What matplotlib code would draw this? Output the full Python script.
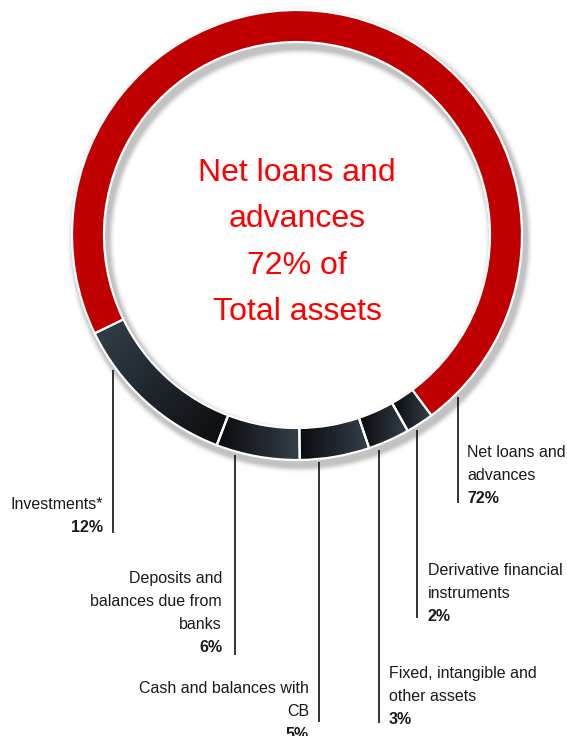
import numpy as np
import matplotlib
matplotlib.use("Agg")
import matplotlib.pyplot as plt

# ---- data -------------------------------------------------------------
categories = [
    "Investments*",
    "Deposits and\nbalances due from\nbanks",
    "Cash and balances with\nCB",
    "Fixed, intangible and\nother assets",
    "Derivative financial\ninstruments",
    "Net loans and\nadvances",
]
shares = [12, 6, 5, 3, 2, 72]
center_lines = ["Net loans and", "advances", "72% of", "Total assets"]

# ---- style / layout (pixel units, y measured from the top) --------------
W, H = 567, 736
RED = "#c00000"
SLATE = np.array([52, 64, 74]) / 255.0
INK = np.array([10, 11, 13]) / 255.0
CX, CY = 297, 235
R_OUT, RING_W = 225, 32
START = 205.9
FONT = "Liberation Sans"
PITCH = 23

# gradient per dark wedge: (direction in screen px, colour at start, colour at end)
grad = [
    ((1.0, 1.0), SLATE, INK),
    ((1.0, 0.0), INK, SLATE),
    ((1.0, 0.0), INK, SLATE),
    ((1.0, 0.0), INK, SLATE),
    ((1.0, 0.0), INK, SLATE),
]

# leader line x, line top, line bottom, text x, first baseline, alignment
label_layout = [
    (113, 370, 533, 103, 509, "right"),
    (235, 455, 655, 222, 583, "right"),
    (319, 462, 722, 309, 693, "right"),
    (379, 450, 723, 389, 678, "left"),
    (417, 430, 618, 428, 575, "left"),
    (458, 397, 503, 467, 457, "left"),
]


def Y(y):
    return H - y


fig = plt.figure(figsize=(W / 100, H / 100), dpi=100)
ax = fig.add_axes([0, 0, 1, 1])

# soft drop shadow under the ring, offset down and to the right
yy, xx = np.mgrid[0:H, 0:W] + 0.5
r = np.hypot(xx - (CX + 3), yy - (CY + 5))
r_in = R_OUT - RING_W
d = np.maximum(np.maximum(r - (R_OUT + 1), (r_in - 1) - r), 0)
alpha = 0.24 * np.exp(-(d / 4.0) ** 2)
shadow = np.zeros((H, W, 4))
shadow[..., 3] = alpha
ax.imshow(shadow, extent=[0, W, 0, H], origin="upper", zorder=1,
          interpolation="bilinear")

wedges, _ = ax.pie(
    shares,
    startangle=START,
    counterclock=True,
    radius=R_OUT,
    center=(CX, Y(CY)),
    colors=["#333f48"] * 5 + [RED],
    wedgeprops=dict(width=RING_W, edgecolor="white", linewidth=1.6),
)
for w in wedges:
    w.set_zorder(3)

# gradient fill for the dark wedges
for w, (dvec, c0, c1) in zip(wedges[:5], grad):
    ext = w.get_path().get_extents()
    x0, y0, x1, y1 = ext.x0, ext.y0, ext.x1, ext.y1
    nx, ny = 120, 120
    gx = np.linspace(x0, x1, nx)
    gy = np.linspace(y1, y0, ny)  # top row first (screen down)
    GX, GY = np.meshgrid(gx - x0, (y1 - gy))
    dx, dy = dvec
    proj = GX * dx + GY * dy
    t = (proj - proj.min()) / (proj.max() - proj.min())
    img = c0[None, None, :] * (1 - t[..., None]) + c1[None, None, :] * t[..., None]
    im = ax.imshow(img, extent=[x0, x1, y0, y1], origin="upper", zorder=2,
                   interpolation="bilinear")
    im.set_clip_path(w)
    w.set_facecolor("none")

# leader lines and labels
for cat, val, (lx, ly0, ly1, tx, ty, ha) in zip(categories, shares, label_layout):
    ax.plot([lx, lx], [Y(ly0), Y(ly1)], color="#111111", lw=1.2, zorder=4,
            solid_capstyle="butt")
    lines = cat.split("\n")
    for i, line in enumerate(lines):
        ax.text(tx, Y(ty + i * PITCH), line, ha=ha, va="baseline",
                family=FONT, fontsize=11.5, color="#1a1a1a")
    ax.text(tx, Y(ty + len(lines) * PITCH), f"{val}%", ha=ha, va="baseline",
            family=FONT, fontsize=11.5, color="#1a1a1a", fontweight="bold")

# centre statement
for i, line in enumerate(center_lines):
    ax.text(CX, Y(181 + i * 46.3), line, ha="center", va="baseline",
            family=FONT, fontsize=23, color="#ff0000")

ax.set_xlim(0, W)
ax.set_ylim(0, H)
ax.set_aspect("equal")
ax.axis("off")
fig.savefig("out.png", dpi=100, facecolor="white")
